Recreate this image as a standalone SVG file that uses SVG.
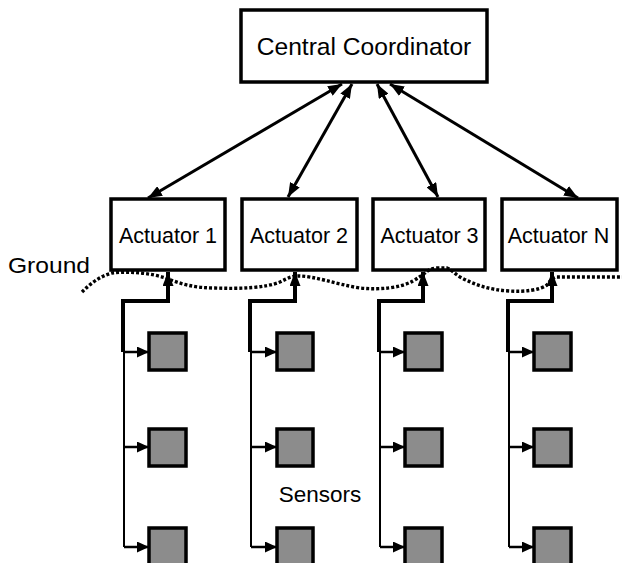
<svg xmlns="http://www.w3.org/2000/svg" width="622" height="563" viewBox="0 0 622 563">
<defs>
<style>
.box{fill:#fff;stroke:#000;stroke-width:3.5}
.sq{fill:#8c8c8c;stroke:#000;stroke-width:3.5}
.lbl{font-family:"Liberation Sans",Arial,sans-serif;fill:#000;text-anchor:middle}
.ln{fill:none;stroke:#000;stroke-width:3}
.thick{fill:none;stroke:#000;stroke-width:4}
.thin{fill:none;stroke:#000;stroke-width:2}
.sa{fill:none;stroke:#000;stroke-width:2.5}
.gnd{fill:none;stroke:#000;stroke-width:3.4;stroke-dasharray:3 2}
</style>
<marker id="ah" viewBox="0 0 14 11" refX="14" refY="5.5" markerWidth="14" markerHeight="11" markerUnits="userSpaceOnUse" orient="auto-start-reverse">
<path d="M0,0 L14,5.5 L0,11 z" fill="#000"/>
</marker>
<marker id="sh" viewBox="0 0 12 11" refX="12" refY="5.5" markerWidth="12" markerHeight="11" markerUnits="userSpaceOnUse" orient="auto">
<path d="M0,0 L12,5.5 L0,11 z" fill="#000"/>
</marker>
</defs>
<rect width="622" height="563" fill="#fff"/>

<g id="central">
<rect class="box" x="241" y="10" width="246" height="72"/>
<text class="lbl" x="364" y="55" font-size="24.6">Central Coordinator</text>
</g>

<g id="actuator1">
<rect class="box" x="111" y="199" width="114" height="71"/>
<text class="lbl" x="168" y="243" font-size="21.5">Actuator 1</text>
</g>
<g id="actuator2">
<rect class="box" x="242" y="199" width="115" height="71"/>
<text class="lbl" x="299" y="243" font-size="21.5">Actuator 2</text>
</g>
<g id="actuator3">
<rect class="box" x="373" y="199" width="112" height="71"/>
<text class="lbl" x="429.5" y="243" font-size="21.5">Actuator 3</text>
</g>
<g id="actuatorN">
<rect class="box" x="502" y="199" width="115" height="71"/>
<text class="lbl" x="558.5" y="243" font-size="21.5">Actuator N</text>
</g>

<g id="ground">
<path class="gnd" d="M82,292 C90,284 100,276 112,273 C130,271 150,273 166,278 C180,284 195,288 215,288 C240,289 265,288 280,282 C288,278 292,276 298,276 C315,276 335,284 360,288 C380,290 400,288 413,281 C418,278 421,276 425,273 C428,270 432,268 438,268 L447,268 C452,270 455,274 460,277 C475,285 490,290 510,291 C525,292 540,290 547,285 C550,281 551,279 556,277 L622,277"/>
<text x="8" y="273" font-family="'Liberation Sans',Arial,sans-serif" font-size="22.5" textLength="82" lengthAdjust="spacingAndGlyphs">Ground</text>
</g>

<g id="sensors-label">
<text class="lbl" x="320" y="502" font-size="22.5">Sensors</text>
</g>

<g id="connectors">
<line class="ln" x1="342" y1="84" x2="148" y2="198" marker-start="url(#ah)" marker-end="url(#ah)"/>
<line class="ln" x1="352" y1="84" x2="288" y2="197" marker-start="url(#ah)" marker-end="url(#ah)"/>
<line class="ln" x1="377" y1="84" x2="438" y2="197" marker-start="url(#ah)" marker-end="url(#ah)"/>
<line class="ln" x1="390" y1="84" x2="578" y2="198" marker-start="url(#ah)" marker-end="url(#ah)"/>

<path class="thick" d="M123,352 V301 H168 V272" marker-end="url(#ah)"/>
<path class="thin" d="M124,351 V547"/>
<path class="sa" d="M124,352 H149" marker-end="url(#sh)"/>
<path class="sa" d="M124,447 H149" marker-end="url(#sh)"/>
<path class="sa" d="M124,547 H149" marker-end="url(#sh)"/>

<path class="thick" d="M250,352 V301 H295 V272" marker-end="url(#ah)"/>
<path class="thin" d="M251,351 V547"/>
<path class="sa" d="M251,352 H277" marker-end="url(#sh)"/>
<path class="sa" d="M251,447 H277" marker-end="url(#sh)"/>
<path class="sa" d="M251,547 H277" marker-end="url(#sh)"/>

<path class="thick" d="M379,352 V301 H423 V272" marker-end="url(#ah)"/>
<path class="thin" d="M380,351 V547"/>
<path class="sa" d="M380,352 H405" marker-end="url(#sh)"/>
<path class="sa" d="M380,447 H405" marker-end="url(#sh)"/>
<path class="sa" d="M380,547 H405" marker-end="url(#sh)"/>

<path class="thick" d="M508,352 V301 H552 V272" marker-end="url(#ah)"/>
<path class="thin" d="M509,351 V547"/>
<path class="sa" d="M509,352 H534" marker-end="url(#sh)"/>
<path class="sa" d="M509,447 H534" marker-end="url(#sh)"/>
<path class="sa" d="M509,547 H534" marker-end="url(#sh)"/>
</g>

<g id="sensors-col1">
<rect class="sq" x="149" y="333" width="37" height="37"/>
<rect class="sq" x="149" y="429" width="37" height="37"/>
<rect class="sq" x="149" y="528" width="37" height="37"/>
</g>
<g id="sensors-col2">
<rect class="sq" x="277" y="333" width="36" height="37"/>
<rect class="sq" x="277" y="429" width="36" height="37"/>
<rect class="sq" x="277" y="528" width="36" height="37"/>
</g>
<g id="sensors-col3">
<rect class="sq" x="405" y="333" width="37" height="37"/>
<rect class="sq" x="405" y="429" width="37" height="37"/>
<rect class="sq" x="405" y="528" width="37" height="37"/>
</g>
<g id="sensors-colN">
<rect class="sq" x="534" y="333" width="37" height="37"/>
<rect class="sq" x="534" y="429" width="37" height="37"/>
<rect class="sq" x="534" y="528" width="37" height="37"/>
</g>
</svg>
